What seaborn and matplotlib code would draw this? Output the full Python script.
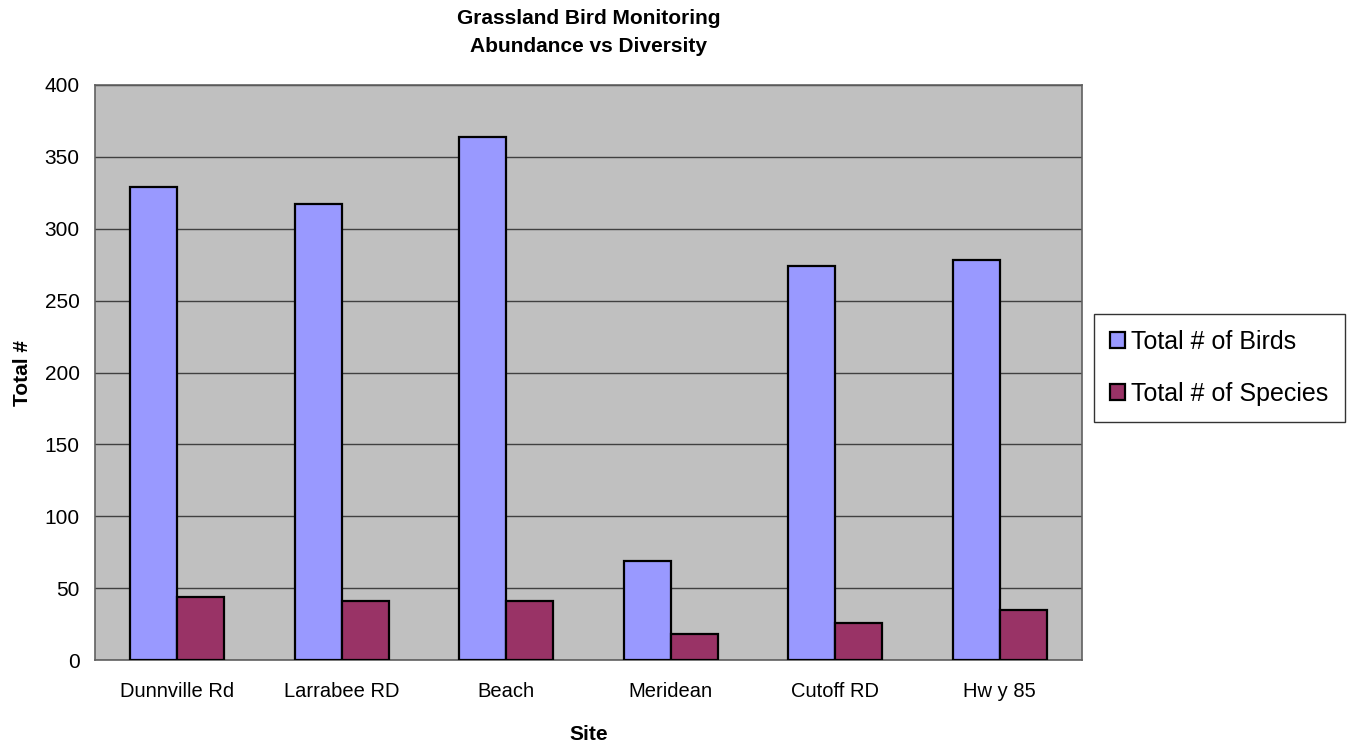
import pandas as pd
import numpy as np
import matplotlib.pyplot as plt
import seaborn as sns
from matplotlib.ticker import FixedLocator

sites = ['Dunnville Rd', 'Larrabee RD', 'Beach', 'Meridean', 'Cutoff RD', 'Hw y 85']
birds = [329, 317, 364, 69, 274, 278]
species = [44, 41, 41, 18, 26, 35]
series = ['Total # of Birds', 'Total # of Species']
colors = ['#9999FF', '#993366']

df = pd.DataFrame({
    'Site': sites * 2,
    'Value': birds + species,
    'Series': [series[0]] * len(sites) + [series[1]] * len(sites),
})

sns.set_style('white')
plt.rcParams['font.family'] = ['Liberation Sans', 'DejaVu Sans']
plt.rcParams['text.color'] = 'black'
plt.rcParams['axes.labelcolor'] = 'black'
plt.rcParams['xtick.color'] = 'black'
plt.rcParams['ytick.color'] = 'black'

fig = plt.figure(figsize=(13.55, 7.48), dpi=100)
ax = fig.add_axes([0.0701, 0.1176, 0.7284, 0.7688])
ax.set_facecolor('#C0C0C0')

sns.barplot(data=df, x='Site', y='Value', hue='Series', palette=colors,
            saturation=1, width=0.57, edgecolor='black', linewidth=1.6,
            ax=ax, zorder=3)

ax.set_xlim(-0.5, 5.5)
ax.set_ylim(0, 400)
ax.set_yticks(np.arange(0, 401, 50))
ax.yaxis.grid(True, color='#404040', linewidth=1.0, zorder=0)
ax.set_axisbelow(True)

# category tick marks sit between groups
ax.xaxis.set_minor_locator(FixedLocator(np.arange(-0.5, 6, 1)))
ax.tick_params(axis='x', which='major', length=0, labelsize=14.5, pad=16,
               labelcolor='black')
ax.tick_params(axis='x', which='minor', length=6, color='#606060', width=1, direction='out')
ax.tick_params(axis='y', length=6, color='#606060', width=1, direction='out',
               labelsize=15, pad=5, labelcolor='black')

for s in ax.spines.values():
    s.set_color('#606060')
    s.set_linewidth(1.2)

ax.set_xlabel('Site', fontsize=15, fontweight='bold', color='black')
ax.set_ylabel('Total #', fontsize=15, fontweight='bold', color='black')
ax.xaxis.set_label_coords(0.5, -0.113)
ax.yaxis.set_label_coords(-0.064, 0.5)
ax.set_title('Grassland Bird Monitoring\nAbundance vs Diversity', fontsize=15,
             fontweight='bold', pad=24, linespacing=1.6, color='black')

leg = ax.legend(loc='center left', bbox_to_anchor=(1.012, 0.508), fontsize=18,
                frameon=True, fancybox=False, edgecolor='black',
                handlelength=0.6, handleheight=0.6, handletextpad=0.25,
                labelspacing=1.1, borderpad=0.65, borderaxespad=0)
leg.get_frame().set_linewidth(1.0)
for t in leg.get_texts():
    t.set_color('black')

plt.savefig('out.png', dpi=100)
